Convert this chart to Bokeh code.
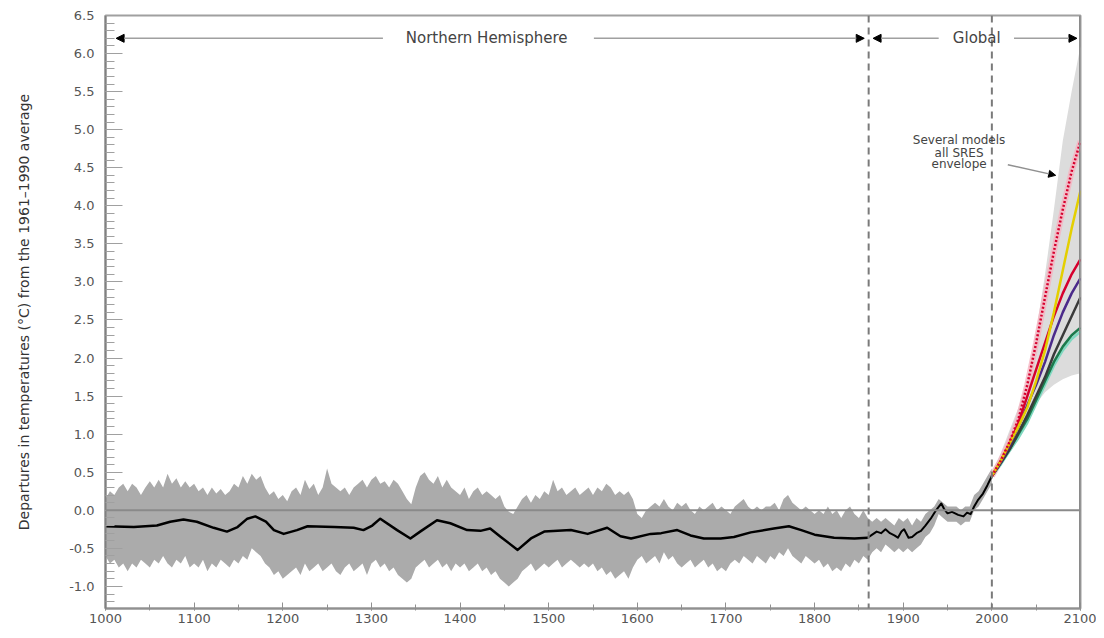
from bokeh.plotting import figure
from bokeh.models import (Range1d, FixedTicker, NumeralTickFormatter, Span, Label,
                          Arrow, NormalHead)
from bokeh.embed import file_html
from bokeh.resources import INLINE

# ---------------- data ----------------
band_years = list(range(1000, 2001, 5))
band_upper = [
    0.15, 0.25, 0.20, 0.30, 0.35, 0.25, 0.35, 0.30, 0.20, 0.30,
    0.38, 0.30, 0.40, 0.30, 0.48, 0.35, 0.42, 0.30, 0.38, 0.30,
    0.35, 0.25, 0.30, 0.20, 0.30, 0.22, 0.28, 0.20, 0.25, 0.35,
    0.30, 0.45, 0.35, 0.48, 0.40, 0.45, 0.30, 0.20, 0.25, 0.15,
    0.20, 0.12, 0.25, 0.30, 0.20, 0.40, 0.28, 0.35, 0.20, 0.30,
    0.55, 0.35, 0.30, 0.25, 0.30, 0.20, 0.30, 0.35, 0.40, 0.30,
    0.40, 0.45, 0.35, 0.38, 0.30, 0.40, 0.35, 0.25, 0.15, 0.08,
    0.30, 0.45, 0.50, 0.40, 0.35, 0.45, 0.30, 0.40, 0.30, 0.25,
    0.20, 0.30, 0.15, 0.25, 0.30, 0.20, 0.25, 0.20, 0.15, 0.20,
    0.05, -0.02, -0.05, 0.05, 0.15, 0.20, 0.10, 0.20, 0.15, 0.25,
    0.20, 0.40, 0.25, 0.30, 0.20, 0.25, 0.30, 0.20, 0.25, 0.30,
    0.20, 0.30, 0.25, 0.35, 0.30, 0.20, 0.25, 0.20, 0.25, 0.15,
    -0.05, -0.10, 0.00, 0.05, 0.10, 0.05, 0.15, 0.05, 0.00, 0.10,
    0.05, 0.10, 0.00, -0.05, 0.05, 0.00, 0.05, 0.10, 0.00, 0.05,
    0.00, -0.05, 0.05, 0.10, 0.15, 0.05, 0.00, 0.05, 0.00, 0.05,
    0.05, 0.10, 0.00, 0.15, 0.20, 0.10, 0.05, 0.00, 0.05, 0.00,
    -0.05, 0.00, -0.05, 0.05, -0.05, 0.00, -0.10, 0.00, 0.05, -0.05,
    -0.10, 0.00, -0.10, -0.15, -0.10, -0.15, -0.10, -0.15, -0.20, -0.10,
    -0.15, -0.10, -0.20, -0.10, -0.15, -0.05, 0.00, 0.05, 0.15, 0.10,
    0.05, 0.05, 0.05, 0.00, 0.05, 0.05, 0.20, 0.25, 0.35, 0.45,
    0.55,
]
band_lower = [
    -0.60, -0.70, -0.65, -0.75, -0.70, -0.80, -0.70, -0.75, -0.65, -0.70,
    -0.75, -0.65, -0.70, -0.60, -0.70, -0.75, -0.65, -0.70, -0.60, -0.75,
    -0.70, -0.75, -0.65, -0.80, -0.70, -0.75, -0.65, -0.70, -0.75, -0.65,
    -0.70, -0.60, -0.65, -0.50, -0.55, -0.60, -0.70, -0.75, -0.85, -0.80,
    -0.90, -0.85, -0.80, -0.75, -0.85, -0.70, -0.80, -0.75, -0.70, -0.80,
    -0.75, -0.70, -0.80, -0.85, -0.75, -0.70, -0.80, -0.75, -0.70, -0.85,
    -0.70, -0.65, -0.75, -0.70, -0.80, -0.75, -0.85, -0.90, -0.95, -0.90,
    -0.75, -0.70, -0.65, -0.75, -0.70, -0.65, -0.75, -0.70, -0.80, -0.70,
    -0.75, -0.70, -0.80, -0.75, -0.70, -0.80, -0.75, -0.85, -0.80, -0.90,
    -0.95, -1.00, -0.95, -0.90, -0.80, -0.75, -0.70, -0.80, -0.75, -0.70,
    -0.75, -0.70, -0.65, -0.75, -0.70, -0.65, -0.70, -0.75, -0.70, -0.75,
    -0.70, -0.80, -0.75, -0.85, -0.80, -0.90, -0.85, -0.80, -0.90, -0.75,
    -0.65, -0.60, -0.70, -0.65, -0.60, -0.70, -0.55, -0.65, -0.60, -0.70,
    -0.75, -0.70, -0.65, -0.75, -0.70, -0.65, -0.75, -0.70, -0.80, -0.75,
    -0.80, -0.70, -0.65, -0.70, -0.60, -0.65, -0.70, -0.60, -0.65, -0.70,
    -0.60, -0.65, -0.55, -0.60, -0.50, -0.60, -0.65, -0.70, -0.60, -0.65,
    -0.70, -0.65, -0.75, -0.70, -0.80, -0.75, -0.80, -0.70, -0.75, -0.65,
    -0.70, -0.60, -0.65, -0.55, -0.50, -0.55, -0.45, -0.50, -0.55, -0.50,
    -0.55, -0.50, -0.55, -0.50, -0.45, -0.35, -0.30, -0.20, -0.05, -0.10,
    -0.15, -0.15, -0.15, -0.20, -0.15, -0.15, 0.00, 0.05, 0.15, 0.25,
    0.35,
]

nh_years = [1000, 1032, 1058, 1073, 1088, 1103, 1122, 1137, 1149, 1160, 1169, 1181,
            1190, 1201, 1216, 1228, 1258, 1280, 1291, 1301, 1310, 1329, 1344, 1355,
            1374, 1389, 1408, 1423, 1434, 1446, 1465, 1480, 1495, 1525, 1544, 1566,
            1581, 1593, 1615, 1627, 1645, 1660, 1675, 1694, 1709, 1728, 1754, 1771,
            1785, 1800, 1822, 1845, 1860]
nh_smooth = [-0.21, -0.22, -0.20, -0.15, -0.12, -0.15, -0.23, -0.28, -0.22, -0.11, -0.08, -0.15,
             -0.26, -0.31, -0.26, -0.21, -0.22, -0.23, -0.26, -0.20, -0.11, -0.26, -0.37, -0.28,
             -0.13, -0.17, -0.26, -0.27, -0.24, -0.35, -0.52, -0.37, -0.28, -0.26, -0.31, -0.23,
             -0.34, -0.37, -0.31, -0.30, -0.26, -0.33, -0.37, -0.37, -0.35, -0.29, -0.24, -0.21,
             -0.26, -0.32, -0.36, -0.37, -0.36]

inst_years = [1860, 1865, 1870, 1875, 1880, 1885, 1890, 1894, 1898, 1901, 1906, 1910,
              1915, 1920, 1925, 1931, 1937, 1943, 1946, 1950, 1955, 1962, 1968, 1972,
              1976, 1980, 1984, 1990, 1995, 2000]
inst_temp = [-0.36, -0.32, -0.28, -0.30, -0.25, -0.30, -0.33, -0.36, -0.28, -0.25, -0.36, -0.35,
             -0.30, -0.27, -0.20, -0.11, 0.00, 0.09, 0.02, -0.04, -0.02, -0.06, -0.08, -0.03,
             -0.05, 0.05, 0.13, 0.22, 0.33, 0.45]

env_years = [2000, 2010, 2020, 2030, 2040, 2050, 2060, 2070, 2080, 2090, 2100]
env_upper = [0.50, 0.75, 1.05, 1.35, 1.70, 2.35, 3.10, 3.95, 4.85, 5.50, 6.10]
env_lower = [0.45, 0.60, 0.75, 0.95, 1.20, 1.40, 1.55, 1.65, 1.72, 1.77, 1.80]

proj_years = [2000, 2010, 2020, 2030, 2040, 2050, 2060, 2070, 2080, 2090, 2100]
proj_a1fi = [0.45, 0.65, 0.90, 1.20, 1.65, 2.20, 2.80, 3.40, 3.95, 4.45, 4.85]
proj_a2 = [0.45, 0.65, 0.88, 1.10, 1.35, 1.70, 2.10, 2.60, 3.15, 3.70, 4.20]
proj_a1b = [0.45, 0.65, 0.88, 1.15, 1.50, 1.85, 2.20, 2.55, 2.85, 3.10, 3.30]
proj_b2 = [0.45, 0.63, 0.85, 1.10, 1.38, 1.65, 1.95, 2.30, 2.60, 2.85, 3.05]
proj_a1t = [0.45, 0.62, 0.80, 1.02, 1.25, 1.50, 1.75, 2.05, 2.30, 2.55, 2.80]
proj_b1 = [0.45, 0.62, 0.80, 1.00, 1.20, 1.45, 1.70, 1.95, 2.15, 2.30, 2.40]
proj_is92 = [0.45, 0.60, 0.78, 0.95, 1.15, 1.40, 1.65, 1.90, 2.10, 2.25, 2.35]

y_ticks = [-1.0, -0.5, 0.0, 0.5, 1.0, 1.5, 2.0, 2.5, 3.0, 3.5, 4.0, 4.5, 5.0, 5.5, 6.0, 6.5]
y_minor = [round(-1.2 + 0.1 * i, 1) for i in range(78)]
x_ticks = [1000, 1100, 1200, 1300, 1400, 1500, 1600, 1700, 1800, 1900, 2000, 2100]
x_minor = [1000 + 50 * i for i in range(23)]

# ---------------- figure ----------------
p = figure(width=1096, height=630, x_range=Range1d(1000, 2100), y_range=Range1d(-1.29, 6.5),
           output_backend="svg", toolbar_location=None,
           min_border_left=105, min_border_right=16, min_border_top=15, min_border_bottom=22)
p.background_fill_color = "white"
p.border_fill_color = "white"
p.xgrid.visible = False
p.ygrid.visible = False
p.outline_line_color = "#a0a0a0"
p.outline_line_width = 2

FONT = "DejaVu Sans"

yax = p.yaxis[0]
yax.ticker = FixedTicker(ticks=y_ticks, minor_ticks=y_minor)
yax.formatter = NumeralTickFormatter(format="0.0")
yax.axis_line_color = "#808080"
yax.axis_line_width = 2
yax.major_tick_line_color = "#a0a0a0"
yax.minor_tick_line_color = "#a0a0a0"
yax.major_tick_in = 17
yax.major_tick_out = 0
yax.minor_tick_in = 9
yax.minor_tick_out = 0
yax.major_label_text_font = FONT
yax.major_label_text_font_size = "13px"
yax.major_label_text_color = "#555555"
yax.major_label_standoff = 11
yax.axis_label = "Departures in temperatures (\u00b0C) from the 1961\u20131990 average"
yax.axis_label_text_font = FONT
yax.axis_label_text_font_size = "14px"
yax.axis_label_text_font_style = "normal"
yax.axis_label_text_color = "#333333"
yax.axis_label_standoff = 34

xax = p.xaxis[0]
xax.ticker = FixedTicker(ticks=x_ticks, minor_ticks=x_minor)
xax.axis_line_color = "#909090"
xax.axis_line_width = 2
xax.major_tick_line_color = "#909090"
xax.minor_tick_line_color = "#909090"
xax.major_tick_in = 6
xax.major_tick_out = 2
xax.minor_tick_in = 4
xax.minor_tick_out = 2
xax.major_label_text_font = FONT
xax.major_label_text_font_size = "13px"
xax.major_label_text_color = "#555555"
xax.major_label_standoff = 3

# SRES envelope
p.varea(x=env_years, y1=env_lower, y2=env_upper, fill_color="#dcdcdc")
# NH uncertainty band
p.varea(x=band_years, y1=band_lower, y2=band_upper, fill_color="#ababab")

# reference lines
p.add_layout(Span(location=0.0, dimension="width", line_color="#8a8a8a", line_width=2))
p.add_layout(Span(location=1861, dimension="height", line_color="#7a7a7a",
                  line_width=2, line_dash="7 5"))
p.add_layout(Span(location=2000, dimension="height", line_color="#7a7a7a",
                  line_width=2, line_dash="7 5"))
p.add_layout(Span(location=2100, dimension="height", line_color="#8a8a8a", line_width=3))

# reconstructions
p.line(nh_years, nh_smooth, line_color="black", line_width=2.5, line_join="round")
p.line(inst_years, inst_temp, line_color="black", line_width=2, line_join="round")

# projections
p.line(proj_years, proj_a1fi, line_color="#f6b3c0", line_width=6, line_alpha=0.8)
p.line(proj_years, proj_is92, line_color="#7fd8c0", line_width=2.5)
p.line(proj_years, proj_b1, line_color="#1c7a4c", line_width=2.5)
p.line(proj_years, proj_a1t, line_color="#3a3a3a", line_width=2.5)
p.line(proj_years, proj_b2, line_color="#4b2a8a", line_width=2.5)
p.line(proj_years, proj_a1b, line_color="#d6002e", line_width=2.5)
p.line(proj_years, proj_a2, line_color="#e4cf00", line_width=2.5)
p.line(proj_years, proj_a1fi, line_color="#d6002e", line_width=2.5, line_dash="2 2")

# annotations
lbl = dict(text_font=FONT, text_font_size="15px", text_color="#444444",
           text_align="center", text_baseline="middle")
p.add_layout(Label(x=1430, y=6.2, text="Northern Hemisphere", **lbl))
p.add_layout(Label(x=1983, y=6.2, text="Global", **lbl))

head = lambda: NormalHead(size=8, fill_color="black", line_color="black")
arr = dict(line_color="#a0a0a0", line_width=1.5)
p.add_layout(Arrow(x_start=1313, y_start=6.2, x_end=1012, y_end=6.2, end=head(), **arr))
p.add_layout(Arrow(x_start=1551, y_start=6.2, x_end=1856, y_end=6.2, end=head(), **arr))
p.add_layout(Arrow(x_start=1940, y_start=6.2, x_end=1866, y_end=6.2, end=head(), **arr))
p.add_layout(Arrow(x_start=2025, y_start=6.2, x_end=2096, y_end=6.2, end=head(), **arr))

note = dict(text_font=FONT, text_font_size="12px", text_color="#444444",
            text_align="center", text_baseline="middle")
p.add_layout(Label(x=1963, y=4.86, text="Several models", **note))
p.add_layout(Label(x=1963, y=4.70, text="all SRES", **note))
p.add_layout(Label(x=1963, y=4.55, text="envelope", **note))
p.add_layout(Arrow(x_start=2018, y_start=4.54, x_end=2072, y_end=4.40,
                   end=NormalHead(size=7, fill_color="black", line_color="black"),
                   line_color="#909090", line_width=1.5))

open("out.html", "w").write(file_html(p, INLINE))
